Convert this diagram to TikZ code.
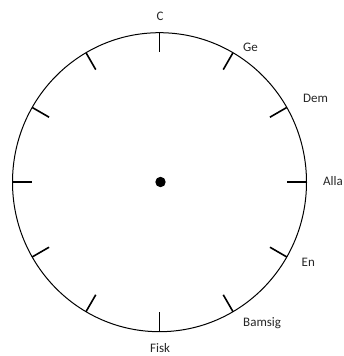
\documentclass[tikz,border=0pt]{standalone}
\usepackage{fontspec}
\setmainfont{Carlito}
\begin{document}
\begin{tikzpicture}[x=1pt,y=-1pt,
  lbl/.style={anchor=base west,inner sep=0pt,font=\fontsize{13}{15}\selectfont,text=black!85},
  rim/.style={line width=1pt},
  tickmark/.style={line width=1.6pt}]
\useasboundingbox (0,0) rectangle (344,356);
\coordinate (O) at (159.5,182.2);
\draw[rim] (O) ellipse [x radius=147, y radius=149.5];
\foreach \a in {0,30,...,330}{
  \draw[tickmark,shift={(O)}] (\a:147 and 149.5) -- (\a:127.5 and 130);
}
\node[circle,fill=black,inner sep=0pt,minimum size=10.4pt] (hub) at (160.5,182) {};
\node[lbl] (c) at (156.5,20) {C};
\node[lbl] (ge) at (243,51.7) {Ge};
\node[lbl] (dem) at (303,102) {Dem};
\node[lbl] (alla) at (323,185) {Alla};
\node[lbl] (en) at (301.5,266) {En};
\node[lbl] (bamsig) at (243,326.7) {Bamsig};
\node[lbl] (fisk) at (150,352.8) {Fisk};
\end{tikzpicture}
\end{document}
